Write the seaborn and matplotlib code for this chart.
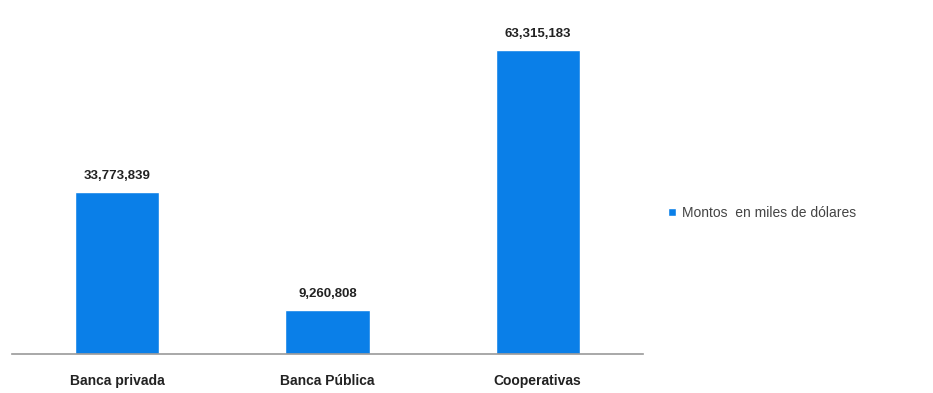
import pandas as pd
import matplotlib
matplotlib.use("Agg")
import matplotlib.pyplot as plt
import seaborn as sns

# Data
categorias = ["Banca privada", "Banca Pública", "Cooperativas"]
montos = [33773839, 9260808, 63315183]
serie = "Montos  en miles de dólares"

df = pd.DataFrame({"categoria": categorias, "monto": montos, "serie": serie})

sns.set_style("white")
plt.rcParams["font.family"] = ["Liberation Sans", "DejaVu Sans"]

fig = plt.figure(figsize=(9.33, 3.93), dpi=100)
ax = fig.add_axes([0.013, 0.099, 0.676, 0.876])

sns.barplot(data=df, x="categoria", y="monto", hue="serie", palette=["#0a7fe8"],
            saturation=1, width=0.4, ax=ax, legend=True)

for p, v in zip(ax.patches, montos):
    ax.text(p.get_x() + p.get_width() / 2, v + 2.0e6, f"{v:,}", ha="center", va="bottom",
            fontsize=9.5, fontweight="bold", color="#222222")

ax.set_ylim(0, 71.6e6)
ax.set_xlim(-0.5, 2.5)
ax.set_xlabel("")
ax.set_ylabel("")
ax.set_yticks([])
ax.tick_params(axis="x", labelsize=10, length=0, pad=14)
for lbl in ax.get_xticklabels():
    lbl.set_fontweight("bold")
    lbl.set_color("#222222")
for s in ["top", "right", "left"]:
    ax.spines[s].set_visible(False)
ax.spines["bottom"].set_color("#999999")
ax.spines["bottom"].set_linewidth(1.2)

leg = ax.legend(loc="center left", bbox_to_anchor=(1.02, 0.41), frameon=False,
                fontsize=10, handlelength=0.6, handleheight=0.6, handletextpad=0.4)
for t in leg.get_texts():
    t.set_color("#444444")

fig.savefig("out.png", dpi=100)
